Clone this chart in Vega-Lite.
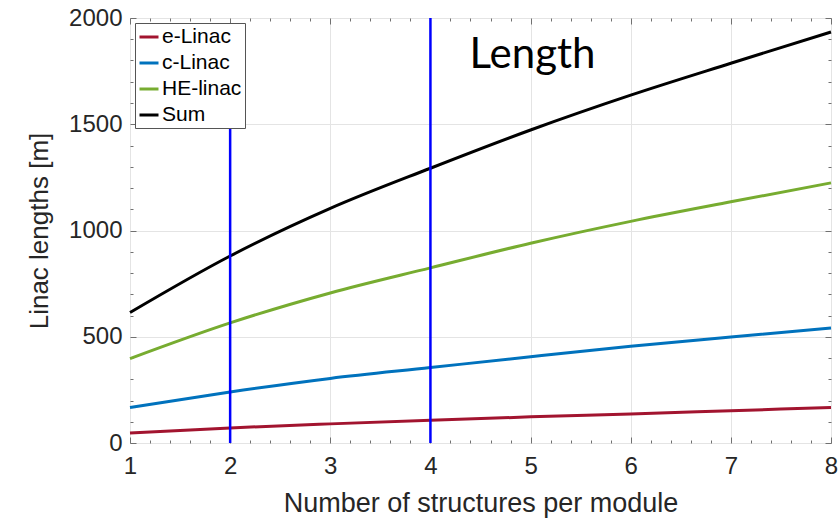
{
  "$schema": "https://vega.github.io/schema/vega-lite/v6.json",
  "width": 701,
  "height": 425,
  "autosize": "none",
  "padding": {"left": 130, "top": 18, "right": 7, "bottom": 75},
  "background": "white",
  "config": {
    "view": {"stroke": "#7f7f7f", "strokeWidth": 1},
    "font": "Liberation Sans"
  },
  "datasets": {
    "lines": [
      {"n": 1, "series": "e-Linac", "length": 47},
      {"n": 2, "series": "e-Linac", "length": 71},
      {"n": 3, "series": "e-Linac", "length": 90},
      {"n": 4, "series": "e-Linac", "length": 107},
      {"n": 5, "series": "e-Linac", "length": 123},
      {"n": 6, "series": "e-Linac", "length": 137},
      {"n": 7, "series": "e-Linac", "length": 152},
      {"n": 8, "series": "e-Linac", "length": 167},
      {"n": 1, "series": "c-Linac", "length": 167},
      {"n": 2, "series": "c-Linac", "length": 240},
      {"n": 3, "series": "c-Linac", "length": 304},
      {"n": 4, "series": "c-Linac", "length": 355},
      {"n": 5, "series": "c-Linac", "length": 406},
      {"n": 6, "series": "c-Linac", "length": 455},
      {"n": 7, "series": "c-Linac", "length": 499},
      {"n": 8, "series": "c-Linac", "length": 541},
      {"n": 1, "series": "HE-linac", "length": 397},
      {"n": 2, "series": "HE-linac", "length": 565},
      {"n": 3, "series": "HE-linac", "length": 706},
      {"n": 4, "series": "HE-linac", "length": 824},
      {"n": 5, "series": "HE-linac", "length": 940},
      {"n": 6, "series": "HE-linac", "length": 1043},
      {"n": 7, "series": "HE-linac", "length": 1135},
      {"n": 8, "series": "HE-linac", "length": 1224},
      {"n": 1, "series": "Sum", "length": 614},
      {"n": 2, "series": "Sum", "length": 880},
      {"n": 3, "series": "Sum", "length": 1104},
      {"n": 4, "series": "Sum", "length": 1293},
      {"n": 5, "series": "Sum", "length": 1473},
      {"n": 6, "series": "Sum", "length": 1637},
      {"n": 7, "series": "Sum", "length": 1787},
      {"n": 8, "series": "Sum", "length": 1934}
    ],
    "markers": [
      {"n": 2, "low": 0, "high": 1500},
      {"n": 4, "low": 0, "high": 2000}
    ],
    "label": [
      {"n": 4.39, "length": 1765, "text": "Length"}
    ]
  },
  "resolve": {"axis": {"x": "independent", "y": "independent"}},
  "layer": [
    {
      "data": {"name": "lines"},
      "mark": {"type": "line", "strokeWidth": 3, "interpolate": "monotone"},
      "encoding": {
        "x": {
          "field": "n", "type": "quantitative",
          "scale": {"domain": [1, 8], "nice": false, "zero": false},
          "axis": {
            "orient": "bottom",
            "title": "Number of structures per module",
            "values": [1, 2, 3, 4, 5, 6, 7, 8],
            "format": "d",
            "ticks": false, "domain": false, "labelFlush": false,
            "grid": true, "gridColor": "#e4e4e4", "gridWidth": 1,
            "labelFontSize": 24, "labelColor": "#262626", "labelPadding": 11,
            "titleFontSize": 27, "titleFontWeight": "normal", "titleColor": "#262626", "titlePadding": 12
          }
        },
        "y": {
          "field": "length", "type": "quantitative",
          "scale": {"domain": [0, 2000], "nice": false},
          "axis": {
            "orient": "left",
            "title": "Linac lengths [m]",
            "values": [0, 500, 1000, 1500, 2000],
            "format": "d",
            "ticks": false, "domain": false, "labelFlush": false,
            "grid": true, "gridColor": "#e4e4e4", "gridWidth": 1,
            "labelFontSize": 24, "labelColor": "#262626", "labelPadding": 8,
            "titleFontSize": 26, "titleFontWeight": "normal", "titleColor": "#262626", "titlePadding": 16
          }
        },
        "color": {
          "field": "series", "type": "nominal",
          "scale": {
            "domain": ["e-Linac", "c-Linac", "HE-linac", "Sum"],
            "range": ["#A2142F", "#0072BD", "#77AC30", "#000000"]
          },
          "legend": {
            "title": null,
            "orient": "top-left",
            "offset": 5,
            "symbolType": "stroke",
            "symbolSize": 361,
            "symbolStrokeWidth": 3,
            "labelFontSize": 21,
            "labelColor": "#000000",
            "labelOffset": 2,
            "rowPadding": 5,
            "padding": 3,
            "fillColor": "white",
            "strokeColor": "#555555",
            "cornerRadius": 0
          }
        }
      }
    },
    {
      "data": {"name": "markers"},
      "mark": {"type": "rule", "color": "#0000FF", "strokeWidth": 2.5},
      "encoding": {
        "x": {
          "field": "n", "type": "quantitative",
          "axis": {
            "orient": "top", "title": null, "labels": false, "grid": false, "domain": false,
            "values": [1, 2, 3, 4, 5, 6, 7, 8],
            "tickColor": "#707070", "tickSize": -6
          }
        },
        "y": {
          "field": "low", "type": "quantitative",
          "axis": {
            "orient": "right", "title": null, "labels": false, "grid": false, "domain": false,
            "values": [0, 500, 1000, 1500, 2000],
            "tickColor": "#707070", "tickSize": -6
          }
        },
        "y2": {"field": "high"}
      }
    },
    {
      "data": {"name": "markers"},
      "mark": {"type": "point", "opacity": 0},
      "encoding": {
        "x": {
          "field": "n", "type": "quantitative",
          "axis": {
            "orient": "top", "title": null, "labels": false, "grid": false, "domain": false,
            "values": [1.2, 1.4, 1.6, 1.8, 2.2, 2.4, 2.6, 2.8, 3.2, 3.4, 3.6, 3.8, 4.2, 4.4, 4.6, 4.8, 5.2, 5.4, 5.6, 5.8, 6.2, 6.4, 6.6, 6.8, 7.2, 7.4, 7.6, 7.8],
            "tickColor": "#707070", "tickSize": -3
          }
        },
        "y": {
          "field": "low", "type": "quantitative",
          "axis": {
            "orient": "right", "title": null, "labels": false, "grid": false, "domain": false,
            "values": [100, 200, 300, 400, 600, 700, 800, 900, 1100, 1200, 1300, 1400, 1600, 1700, 1800, 1900],
            "tickColor": "#707070", "tickSize": -3
          }
        }
      }
    },
    {
      "data": {"name": "markers"},
      "mark": {"type": "point", "opacity": 0},
      "encoding": {
        "x": {
          "field": "n", "type": "quantitative",
          "axis": {
            "orient": "bottom", "title": null, "labels": false, "grid": false, "domain": false,
            "values": [1.2, 1.4, 1.6, 1.8, 2.2, 2.4, 2.6, 2.8, 3.2, 3.4, 3.6, 3.8, 4.2, 4.4, 4.6, 4.8, 5.2, 5.4, 5.6, 5.8, 6.2, 6.4, 6.6, 6.8, 7.2, 7.4, 7.6, 7.8],
            "tickColor": "#707070", "tickSize": -3
          }
        },
        "y": {
          "field": "low", "type": "quantitative",
          "axis": {
            "orient": "left", "title": null, "labels": false, "grid": false, "domain": false,
            "values": [100, 200, 300, 400, 600, 700, 800, 900, 1100, 1200, 1300, 1400, 1600, 1700, 1800, 1900],
            "tickColor": "#707070", "tickSize": -3
          }
        }
      }
    },
    {
      "data": {"name": "label"},
      "mark": {"type": "text", "font": "Lato", "fontSize": 42, "align": "left", "baseline": "alphabetic", "color": "#000000"},
      "encoding": {
        "x": {
          "field": "n", "type": "quantitative",
          "axis": {
            "orient": "bottom", "title": null, "labels": false, "grid": false, "domain": false,
            "values": [1, 2, 3, 4, 5, 6, 7, 8],
            "tickColor": "#707070", "tickSize": -6
          }
        },
        "y": {
          "field": "length", "type": "quantitative",
          "axis": {
            "orient": "left", "title": null, "labels": false, "grid": false, "domain": false,
            "values": [0, 500, 1000, 1500, 2000],
            "tickColor": "#707070", "tickSize": -6
          }
        },
        "text": {"field": "text"}
      }
    }
  ]
}
